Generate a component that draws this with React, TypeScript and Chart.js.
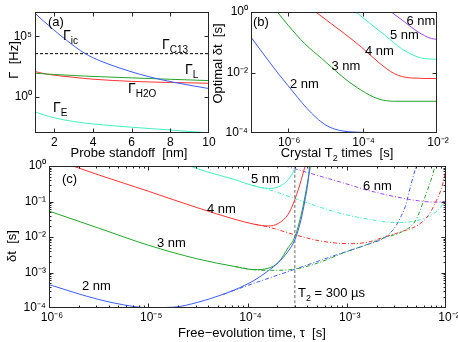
import React, { useEffect, useRef } from 'react';
import { Chart, registerables } from 'chart.js';

Chart.register(...registerables);

const FONT = '"Liberation Sans", Arial, Helvetica, sans-serif';
const W = 458;
const H = 342;

// ---------- Panel (a): rates vs probe standoff ----------
const standoffTicks = [2, 4, 6, 8, 10];
const rateTicks = [1, 1e5];
const icStandoff = [1, 1.43, 1.95, 2.64, 3.59, 4.36, 5.4, 6.43, 7.47, 8.85, 10];
const icRate = [7.76e6, 1.86e6, 3.55e5, 4.5e4, 3.7e3, 930, 229, 70.8, 26.9, 9.77, 4.68];
const c13Standoff = [1, 10];
const c13Rate = [3.6e3, 3.6e3];
const lStandoff = [1, 2, 4, 6, 8, 10];
const lRate = [87, 68, 47, 36, 27.5, 21.4];
const h2oStandoff = [1, 1.5, 2, 3, 4, 6, 8, 10];
const h2oRate = [120, 79, 60, 40, 28, 18.5, 15, 12.9];
const eStandoff = [1, 1.5, 2, 3, 4, 5, 6, 7, 8, 9, 10];
const eRate = [0.056, 0.03, 0.0178, 0.0089, 0.0056, 0.004, 0.003, 0.0023, 0.00178, 0.00132, 0.00105];

// ---------- Panel (b): optimal dt vs crystal T2 ----------
const t2Ticks = [1e-6, 1e-4, 1e-2];
const optDtTicks = [1e-4, 1e-2, 1];
const b2nmT2 = [1e-7, 1.78e-7, 3.16e-7, 5.62e-7, 1e-6, 1.78e-6, 3.16e-6, 5.62e-6, 1e-5, 1.78e-5, 3.16e-5, 1e-4, 1e-3, 1e-2];
const b2nmDt = [0.148, 0.0562, 0.0219, 0.0087, 0.00363, 0.00151, 6.6e-4, 3.24e-4, 1.86e-4, 1.35e-4, 1.15e-4, 1.05e-4, 1.02e-4, 1.02e-4];
const b3nmT2 = [5.1e-7, 1e-6, 2.8e-6, 8e-6, 1.45e-5, 3.3e-5, 9.3e-5, 2.6e-4, 7.2e-4, 2e-3, 1e-2];
const b3nmDt = [1, 0.363, 0.089, 0.0288, 0.0151, 0.0063, 0.00257, 0.00135, 0.00112, 0.00112, 0.00112];
const b4nmT2 = [5.5e-6, 1.45e-5, 3.3e-5, 9.3e-5, 2.6e-4, 7.2e-4, 2e-3, 1e-2];
const b4nmDt = [1, 0.407, 0.19, 0.069, 0.0224, 0.0091, 0.0066, 0.0063];
const b5nmT2 = [6.6e-5, 1.41e-4, 4e-4, 1.1e-3, 3.1e-3, 5.6e-3, 1e-2];
const b5nmDt = [1, 0.468, 0.17, 0.0617, 0.0324, 0.0282, 0.0275];
const b6nmT2 = [5.9e-4, 1.35e-3, 3.1e-3, 7.1e-3, 1e-2];
const b6nmDt = [1, 0.468, 0.219, 0.132, 0.126];

// ---------- Panel (c): dt vs free-evolution time ----------
const tauTicks = [1e-6, 1e-5, 1e-4, 1e-3, 1e-2];
const dtTicks = [1e-4, 1e-3, 1e-2, 1e-1, 1];
const c2nmTau = [1e-6, 1.78e-6, 3.16e-6, 5.62e-6, 1e-5, 1.78e-5, 3.16e-5, 5.62e-5, 7.41e-5, 1.17e-4, 1.62e-4, 2.04e-4, 2.57e-4, 3.02e-4, 3.47e-4, 3.8e-4, 4.07e-4, 4.22e-4];
const c2nmDt = [4.57e-4, 2.75e-4, 1.74e-4, 1.23e-4, 1.02e-4, 1.05e-4, 1.45e-4, 2.4e-4, 3.24e-4, 6.03e-4, 1.12e-3, 1.91e-3, 3.98e-3, 8.71e-3, 0.0316, 0.112, 0.355, 1];
const c2nmLongTau = [5.62e-5, 1.17e-4, 2.19e-4, 7.76e-4, 1.66e-3, 2.4e-3, 3.02e-3, 3.55e-3, 3.89e-3, 4.47e-3, 5.01e-3];
const c2nmLongDt = [2.4e-4, 5.01e-4, 9.12e-4, 3.09e-3, 6.31e-3, 9.55e-3, 0.0178, 0.0398, 0.0724, 0.324, 1];
const c3nmTau = [1e-6, 3.16e-6, 1e-5, 3.16e-5, 7.41e-5, 1.17e-4, 1.62e-4, 2.04e-4, 2.57e-4, 3.02e-4, 3.47e-4, 3.8e-4, 4.07e-4, 4.32e-4];
const c3nmDt = [0.0537, 0.0178, 5.89e-3, 2.4e-3, 1.48e-3, 1.2e-3, 1.32e-3, 1.91e-3, 5.01e-3, 0.0105, 0.0417, 0.141, 0.417, 1];
const c3nmLongTau = [7.41e-5, 1.17e-4, 1.62e-4, 2.4e-4, 3.47e-4, 5.62e-4, 9.55e-4, 1.66e-3, 2.4e-3, 3.55e-3, 4.9e-3, 6.17e-3, 7.24e-3, 7.76e-3];
const c3nmLongDt = [1.48e-3, 1.2e-3, 1.15e-3, 1.17e-3, 1.35e-3, 2.04e-3, 3.72e-3, 6.31e-3, 9.55e-3, 0.0138, 0.0282, 0.138, 0.501, 1];
const c4nmTau = [1.74e-6, 3.16e-6, 1e-5, 3.16e-5, 7.41e-5, 1.17e-4, 1.62e-4, 2.04e-4, 2.57e-4, 2.88e-4, 3.39e-4, 3.8e-4];
const c4nmDt = [1, 0.562, 0.195, 0.0661, 0.0316, 0.0229, 0.0204, 0.024, 0.0437, 0.0851, 0.316, 1];
const c4nmLongTau = [1.17e-4, 1.62e-4, 3.02e-4, 5.13e-4, 7.76e-4, 1.12e-3, 1.66e-3, 2.4e-3, 3.55e-3, 5.25e-3, 6.61e-3, 7.76e-3, 9.12e-3, 1e-2];
const c4nmLongDt = [0.0229, 0.0191, 0.0115, 7.94e-3, 6.76e-3, 6.46e-3, 7.24e-3, 0.01, 0.0141, 0.0219, 0.0398, 0.0891, 0.263, 0.776];
const c5nmTau = [2.63e-5, 3.98e-5, 7.41e-5, 1.1e-4, 1.62e-4, 2.04e-4, 2.4e-4, 2.75e-4, 3.09e-4];
const c5nmDt = [1, 0.676, 0.417, 0.288, 0.234, 0.257, 0.339, 0.537, 1];
const c5nmLongTau = [1.1e-4, 1.62e-4, 2.4e-4, 5.13e-4, 7.76e-4, 1.66e-3, 3.02e-3, 4.47e-3, 6.61e-3, 8.32e-3, 1e-2];
const c5nmLongDt = [0.288, 0.219, 0.151, 0.0724, 0.0501, 0.0316, 0.0257, 0.0269, 0.0372, 0.0575, 0.11];
const c6nmLongTau = [2.4e-4, 3.47e-4, 9.55e-4, 1.66e-3, 3.55e-3, 5.25e-3, 7.76e-3, 1e-2];
const c6nmLongDt = [1, 0.741, 0.324, 0.204, 0.126, 0.105, 0.0955, 0.102];
const t2MarkTau = [3e-4, 3e-4];
const t2MarkDt = [1e-4, 1];

// ---------- styling ----------
const BLUE = '#3d5cff';
const GREEN = '#22a52a';
const RED = '#ff3333';
const CYAN = '#44efbf';
const PURPLE = '#a046f7';

const pts = (xs: number[], ys: number[]) => xs.map((x, i) => ({ x, y: ys[i] }));

const SUP: Record<string, string> = {
  '0': '\u2070', '1': '\u00b9', '2': '\u00b2', '3': '\u00b3', '4': '\u2074',
  '5': '\u2075', '6': '\u2076', '7': '\u2077', '8': '\u2078', '9': '\u2079', '-': '\u207b',
};
const pow10 = (v: number) =>
  '10' + String(Math.round(Math.log10(v))).split('').map((c) => SUP[c]).join('');

type Part = { t: string; sub?: boolean };
type Label = { parts: Part[]; x: number; y: number; size?: number; align?: 'left' | 'center'; rotate?: boolean };

function drawLabel(ctx: CanvasRenderingContext2D, l: Label) {
  const size = l.size ?? 13;
  const subSize = Math.round(size * 0.7);
  ctx.save();
  ctx.translate(l.x, l.y);
  if (l.rotate) ctx.rotate(-Math.PI / 2);
  ctx.fillStyle = '#000';
  ctx.textAlign = 'left';
  ctx.textBaseline = l.rotate ? 'middle' : 'alphabetic';
  const fontOf = (p: Part) => `${p.sub ? subSize : size}px ${FONT}`;
  const widths = l.parts.map((p) => {
    ctx.font = fontOf(p);
    return ctx.measureText(p.t).width;
  });
  const total = widths.reduce((s, w) => s + w, 0);
  let cx = (l.align ?? 'left') === 'center' ? -total / 2 : 0;
  l.parts.forEach((p, i) => {
    ctx.font = fontOf(p);
    ctx.fillText(p.t, cx, p.sub ? Math.round(size * 0.3) : 0);
    cx += widths[i];
  });
  ctx.restore();
}

function minorLog(min: number, max: number) {
  const out: number[] = [];
  for (let e = Math.floor(Math.log10(min)); e <= Math.ceil(Math.log10(max)); e++) {
    for (let m = 2; m <= 9; m++) {
      const v = m * Math.pow(10, e);
      if (v > min && v < max) out.push(v);
    }
  }
  return out;
}

function makeFrame(opts: { xMajor: number[]; yMajor: number[]; xMinor?: number[]; yMinor?: number[]; labels: Label[] }) {
  return {
    id: 'frame',
    afterDraw(chart: any) {
      const { ctx, chartArea: a } = chart;
      const xs = chart.scales.x;
      const ys = chart.scales.y;
      ctx.save();
      ctx.strokeStyle = '#262626';
      ctx.lineWidth = 1;
      ctx.setLineDash([]);
      const L = Math.round(a.left) + 0.5;
      const R = Math.round(a.right) - 0.5;
      const T = Math.round(a.top) + 0.5;
      const B = Math.round(a.bottom) - 0.5;
      ctx.strokeRect(L, T, R - L, B - T);
      ctx.beginPath();
      const vx = (vals: number[], len: number) =>
        vals.forEach((v) => {
          const p = Math.round(xs.getPixelForValue(v)) + 0.5;
          if (p <= L + 1 || p >= R - 1) return;
          ctx.moveTo(p, B);
          ctx.lineTo(p, B - len);
          ctx.moveTo(p, T);
          ctx.lineTo(p, T + len);
        });
      const vy = (vals: number[], len: number) =>
        vals.forEach((v) => {
          const p = Math.round(ys.getPixelForValue(v)) + 0.5;
          if (p <= T + 1 || p >= B - 1) return;
          ctx.moveTo(L, p);
          ctx.lineTo(L + len, p);
          ctx.moveTo(R, p);
          ctx.lineTo(R - len, p);
        });
      vx(opts.xMajor, 4);
      vy(opts.yMajor, 4);
      if (opts.xMinor) vx(opts.xMinor, 2);
      if (opts.yMinor) vy(opts.yMinor, 2);
      ctx.stroke();
      ctx.restore();
      opts.labels.forEach((l) => drawLabel(ctx, l));
    },
  };
}

function axis(type: string, min: number, max: number, ticks: number[], fmt: (v: number) => string, size: number, labelOffset = 0, padding = 3) {
  return {
    type,
    min,
    max,
    bounds: 'data',
    afterBuildTicks: (s: any) => {
      s.ticks = ticks.map((value) => ({ value }));
    },
    afterFit: (s: any) => {
      if (s.isHorizontal()) s.height = size;
      else s.width = size;
      s.paddingLeft = 0;
      s.paddingRight = 0;
      s.paddingTop = 0;
      s.paddingBottom = 0;
    },
    grid: { display: false, drawTicks: false },
    border: { display: false },
    ticks: {
      autoSkip: false,
      maxRotation: 0,
      minRotation: 0,
      padding,
      labelOffset,
      color: '#000',
      font: { family: FONT, size: 12 },
      callback: (v: any) => fmt(Number(v)),
    },
  };
}

function line(data: { x: number; y: number }[], color: string, dash: number[] = [], width = 1) {
  return {
    data,
    borderColor: color,
    borderWidth: width,
    borderDash: dash,
    pointRadius: 0,
    fill: false,
    cubicInterpolationMode: 'monotone',
  };
}

function baseOptions(padding: { left: number; top: number; right: number; bottom: number }, x: any, y: any) {
  return {
    animation: false,
    responsive: false,
    devicePixelRatio: 1,
    layout: { padding },
    events: [],
    plugins: { legend: { display: false }, tooltip: { enabled: false }, title: { display: false } },
    elements: { point: { radius: 0 } },
    scales: { x, y },
  };
}

const DASHDOT = [4, 2, 1, 2];

function configA(): any {
  return {
    type: 'line',
    data: {
      datasets: [
        line(pts(icStandoff, icRate), BLUE),
        line(pts(lStandoff, lRate), GREEN),
        line(pts(h2oStandoff, h2oRate), RED),
        line(pts(eStandoff, eRate), CYAN),
        line(pts(c13Standoff, c13Rate), '#000', [3, 2]),
      ],
    },
    options: baseOptions(
      // chart area: x 35..209, y 12..133 (axis boxes: y 35 wide, x 22 tall)
      { left: 0, top: 12, right: W - 209, bottom: H - 133 - 22 },
      axis('linear', 1, 10, standoffTicks, (v) => String(v), 22, 0, 2),
      axis('logarithmic', 1e-3, 1e7, rateTicks, pow10, 35, 0, 3),
    ),
    plugins: [
      makeFrame({
        xMajor: standoffTicks,
        yMajor: rateTicks,
        labels: [
          { parts: [{ t: '(a)' }], x: 48, y: 26 },
          { parts: [{ t: '\u0393' }, { t: 'ic', sub: true }], x: 63, y: 40, size: 14 },
          { parts: [{ t: '\u0393' }, { t: 'C13', sub: true }], x: 162, y: 49, size: 14 },
          { parts: [{ t: '\u0393' }, { t: 'L', sub: true }], x: 185, y: 74, size: 14 },
          { parts: [{ t: '\u0393' }, { t: 'H2O', sub: true }], x: 128, y: 92.5, size: 14 },
          { parts: [{ t: '\u0393' }, { t: 'E', sub: true }], x: 53, y: 112, size: 14 },
          { parts: [{ t: 'Probe standoff  [nm]' }], x: 129, y: 157, align: 'center' },
          { parts: [{ t: '\u0393  [Hz]' }], x: 14, y: 60, align: 'center', rotate: true },
        ],
      }),
    ],
  };
}

function configB(): any {
  return {
    type: 'line',
    data: {
      datasets: [
        line(pts(b2nmT2, b2nmDt), BLUE),
        line(pts(b3nmT2, b3nmDt), GREEN),
        line(pts(b4nmT2, b4nmDt), RED),
        line(pts(b5nmT2, b5nmDt), CYAN),
        line(pts(b6nmT2, b6nmDt), PURPLE),
      ],
    },
    options: baseOptions(
      // chart area: x 251..437, y 12..133 (axis boxes: y 30 wide, x 22 tall)
      { left: 251 - 30, top: 12, right: W - 437, bottom: H - 133 - 22 },
      axis('logarithmic', 1e-7, 1e-2, t2Ticks, pow10, 22, 1, 2),
      axis('logarithmic', 1e-4, 1, optDtTicks, pow10, 30, 0, 3),
    ),
    plugins: [
      makeFrame({
        xMajor: t2Ticks,
        yMajor: optDtTicks,
        labels: [
          { parts: [{ t: '(b)' }], x: 253, y: 25.5 },
          { parts: [{ t: '2 nm' }], x: 290, y: 88 },
          { parts: [{ t: '3 nm' }], x: 331.5, y: 70 },
          { parts: [{ t: '4 nm' }], x: 365, y: 54.5 },
          { parts: [{ t: '5 nm' }], x: 390, y: 39 },
          { parts: [{ t: '6 nm' }], x: 406.5, y: 25 },
          { parts: [{ t: 'Crystal T' }, { t: '2', sub: true }, { t: ' times  [s]' }], x: 337, y: 157, align: 'center' },
          { parts: [{ t: 'Optimal \u03b4t  [s]' }], x: 218, y: 63.5, align: 'center', rotate: true },
        ],
      }),
    ],
  };
}

function configC(): any {
  return {
    type: 'line',
    data: {
      datasets: [
        line(pts(c2nmTau, c2nmDt), BLUE),
        line(pts(c3nmTau, c3nmDt), GREEN),
        line(pts(c4nmTau, c4nmDt), RED),
        line(pts(c5nmTau, c5nmDt), CYAN),
        line(pts(c2nmLongTau, c2nmLongDt), BLUE, DASHDOT),
        line(pts(c3nmLongTau, c3nmLongDt), GREEN, DASHDOT),
        line(pts(c4nmLongTau, c4nmLongDt), RED, DASHDOT),
        line(pts(c5nmLongTau, c5nmLongDt), CYAN, DASHDOT),
        line(pts(c6nmLongTau, c6nmLongDt), PURPLE, DASHDOT),
        line(pts(t2MarkTau, t2MarkDt), '#555', [3, 2], 0.9),
      ],
    },
    options: baseOptions(
      // chart area: x 49..446, y 166..308 (axis boxes: y 49 wide, x 22 tall)
      { left: 0, top: 166, right: W - 446, bottom: H - 308 - 22 },
      axis('logarithmic', 1e-6, 1e-2, tauTicks, pow10, 22, 3, 2),
      axis('logarithmic', 1e-4, 1, dtTicks, pow10, 49, 0, 3),
    ),
    plugins: [
      makeFrame({
        xMajor: tauTicks,
        yMajor: dtTicks,
        xMinor: minorLog(1e-6, 1e-2),
        yMinor: minorLog(1e-4, 1),
        labels: [
          { parts: [{ t: '(c)' }], x: 62, y: 183 },
          { parts: [{ t: '2 nm' }], x: 82, y: 290 },
          { parts: [{ t: '3 nm' }], x: 157, y: 246.5 },
          { parts: [{ t: '4 nm' }], x: 207, y: 213 },
          { parts: [{ t: '5 nm' }], x: 251, y: 182.5 },
          { parts: [{ t: '6 nm' }], x: 363, y: 189.5 },
          { parts: [{ t: 'T' }, { t: '2', sub: true }, { t: ' = 300 \u00b5s' }], x: 298, y: 296.5 },
          { parts: [{ t: 'Free\u2212evolution time, \u03c4  [s]' }], x: 178, y: 337 },
          { parts: [{ t: '\u03b4t  [s]' }], x: 12.5, y: 246, align: 'center', rotate: true },
        ],
      }),
    ],
  };
}

function Panel({ make }: { make: () => any }) {
  const ref = useRef<HTMLCanvasElement>(null);
  useEffect(() => {
    if (!ref.current) return;
    const chart = new Chart(ref.current, make());
    return () => chart.destroy();
  }, [make]);
  return (
    <canvas
      ref={ref}
      width={W}
      height={H}
      style={{ position: 'absolute', left: 0, top: 0, width: W, height: H }}
    />
  );
}

export default function App() {
  return (
    <div style={{ position: 'fixed', left: 0, top: 0, width: W, height: H, background: '#fff', overflow: 'hidden' }}>
      <Panel make={configA} />
      <Panel make={configB} />
      <Panel make={configC} />
    </div>
  );
}
